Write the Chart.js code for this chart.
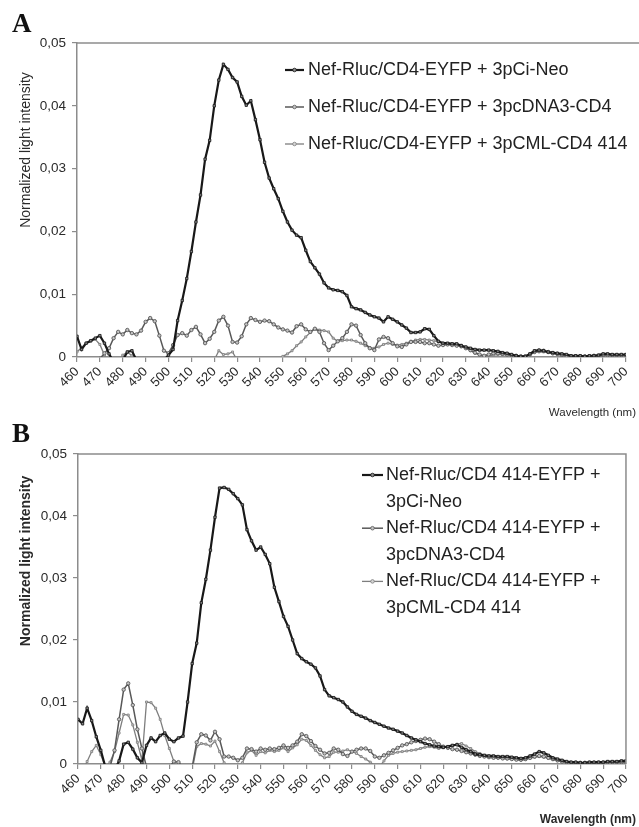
<!DOCTYPE html>
<html><head><meta charset="utf-8">
<script src="https://cdn.jsdelivr.net/npm/chart.js@4/dist/chart.umd.min.js"></script>
<style>
html,body{margin:0;padding:0;background:#fff;}
#wrap{position:relative;width:639px;height:827px;overflow:hidden;}
canvas{position:absolute;left:0;}
</style></head><body>
<div id="wrap">
<canvas id="cA" width="639" height="420" style="top:0"></canvas>
<canvas id="cB" width="639" height="407" style="top:420px"></canvas>
</div>
<script>
// ---- categories (wavelength, nm) ----
const wavelengths = [
 460,462,464,466,468,470,472,474,476,478,
 480,482,484,486,488,490,492,494,496,498,
 500,502,504,506,508,510,512,514,516,518,
 520,522,524,526,528,530,532,534,536,538,
 540,542,544,546,548,550,552,554,556,558,
 560,562,564,566,568,570,572,574,576,578,
 580,582,584,586,588,590,592,594,596,598,
 600,602,604,606,608,610,612,614,616,618,
 620,622,624,626,628,630,632,634,636,638,
 640,642,644,646,648,650,652,654,656,658,
 660,662,664,666,668,670,672,674,676,678,
 680,682,684,686,688,690,692,694,696,698,
 700];
const xTicks = [460,470,480,490,500,510,520,530,540,550,560,570,580,590,600,610,620,630,640,650,660,670,680,690,700];
const yTicks = [0,0.01,0.02,0.03,0.04,0.05];

// ---- panel A series ----
const labelsA = [
 'Nef-Rluc/CD4-EYFP + 3pCi-Neo',
 'Nef-Rluc/CD4-EYFP + 3pcDNA3-CD4',
 'Nef-Rluc/CD4-EYFP + 3pCML-CD4 414'];
const A_ciNeo = [
 0.0033,0.0012,0.0022,0.0026,0.0030,0.0034,0.0022,0.0005,-0.0008,-0.0010,
 -0.0005,0.0008,0.0010,-0.0005,-0.0010,-0.0010,-0.0010,-0.0010,-0.0010,-0.0005,
 0.0003,0.0012,0.0058,0.0090,0.0125,0.0168,0.0215,0.0258,0.0315,0.0345,
 0.0400,0.0441,0.0466,0.0458,0.0445,0.0438,0.0415,0.0401,0.0408,0.0378,
 0.0346,0.0310,0.0285,0.0268,0.0252,0.0232,0.0215,0.0202,0.0194,0.0190,
 0.0170,0.0152,0.0142,0.0132,0.0118,0.0110,0.0107,0.0106,0.0104,0.0098,
 0.0080,0.0077,0.0075,0.0071,0.0067,0.0064,0.0062,0.0056,0.0064,0.0060,
 0.0056,0.0051,0.0046,0.0039,0.0039,0.0040,0.0045,0.0044,0.0034,0.0025,
 0.0022,0.0022,0.0021,0.0021,0.0018,0.0016,0.0014,0.0012,0.0011,0.0011,
 0.0011,0.0010,0.0009,0.0007,0.0006,0.0004,0.0002,0.0001,0.0001,0.0005,
 0.0010,0.0011,0.0010,0.0008,0.0007,0.0006,0.0005,0.0004,0.0002,0.0002,
 0.0002,0.0001,0.0002,0.0002,0.0003,0.0005,0.0005,0.0004,0.0004,0.0004,
 0.0004];
const A_pcDNA3 = [
 -0.0010,-0.0010,-0.0010,-0.0010,-0.0010,-0.0003,0.0006,0.0014,0.0030,0.0040,
 0.0036,0.0043,0.0038,0.0036,0.0042,0.0056,0.0062,0.0057,0.0034,0.0010,
 0.0006,0.0019,0.0035,0.0038,0.0034,0.0043,0.0048,0.0036,0.0022,0.0029,
 0.0040,0.0058,0.0064,0.0050,0.0024,0.0023,0.0033,0.0052,0.0062,0.0059,
 0.0056,0.0058,0.0057,0.0052,0.0047,0.0044,0.0042,0.0039,0.0049,0.0052,
 0.0044,0.0040,0.0045,0.0040,0.0022,0.0011,0.0018,0.0025,0.0030,0.0040,
 0.0052,0.0050,0.0035,0.0022,0.0014,0.0011,0.0028,0.0032,0.0030,0.0022,
 0.0017,0.0016,0.0020,0.0024,0.0024,0.0024,0.0022,0.0022,0.0020,0.0018,
 0.0019,0.0020,0.0019,0.0018,0.0017,0.0014,0.0011,0.0007,0.0004,0.0002,
 0.0004,0.0006,0.0006,0.0005,0.0004,0.0003,0.0002,0.0001,0.0001,0.0004,
 0.0008,0.0010,0.0010,0.0008,0.0006,0.0005,0.0003,0.0002,0.0001,0.0001,
 0.0001,0.0001,0.0001,0.0002,0.0002,0.0003,0.0003,0.0003,0.0003,0.0003,
 0.0003];
const A_pCML = [
 0.0008,0.0015,0.0022,0.0025,0.0028,0.0020,0.0003,-0.0010,-0.0010,-0.0008,
 0.0003,0.0008,0.0002,-0.0008,-0.0010,-0.0010,-0.0010,-0.0010,-0.0010,-0.0010,
 -0.0010,-0.0010,-0.0010,-0.0010,-0.0010,-0.0010,-0.0010,-0.0010,-0.0010,-0.0010,
 -0.0005,0.0010,0.0004,0.0005,0.0008,-0.0005,-0.0010,-0.0010,-0.0010,-0.0010,
 -0.0010,-0.0010,-0.0010,-0.0010,-0.0005,0.0001,0.0005,0.0010,0.0018,0.0024,
 0.0032,0.0039,0.0045,0.0043,0.0042,0.0040,0.0030,0.0025,0.0026,0.0027,
 0.0027,0.0025,0.0022,0.0018,0.0015,0.0014,0.0016,0.0020,0.0022,0.0020,
 0.0019,0.0020,0.0022,0.0025,0.0027,0.0028,0.0028,0.0027,0.0026,0.0024,
 0.0022,0.0021,0.0021,0.0020,0.0019,0.0015,0.0010,0.0006,0.0003,0.0001,
 0.0002,0.0003,0.0004,0.0004,0.0003,0.0002,0.0001,0.0000,0.0001,0.0004,
 0.0007,0.0008,0.0008,0.0007,0.0005,0.0004,0.0003,0.0002,0.0001,0.0001,
 0.0001,0.0001,0.0001,0.0001,0.0001,0.0002,0.0002,0.0002,0.0002,0.0002,
 0.0002];

// ---- panel B series ----
const labelsB = [
 ['Nef-Rluc/CD4 414-EYFP +','3pCi-Neo'],
 ['Nef-Rluc/CD4 414-EYFP +','3pcDNA3-CD4'],
 ['Nef-Rluc/CD4 414-EYFP +','3pCML-CD4 414']];
const B_ciNeo = [
 0.0072,0.0065,0.0090,0.0070,0.0044,0.0022,-0.0005,-0.0010,-0.0010,0.0005,
 0.0032,0.0035,0.0024,0.0010,0.0002,0.0030,0.0042,0.0036,0.0046,0.0050,
 0.0040,0.0036,0.0042,0.0045,0.0100,0.0162,0.0195,0.0260,0.0298,0.0345,
 0.0398,0.0445,0.0446,0.0443,0.0436,0.0428,0.0418,0.0378,0.0360,0.0345,
 0.0350,0.0338,0.0323,0.0285,0.0262,0.0238,0.0222,0.0200,0.0178,0.0170,
 0.0165,0.0161,0.0155,0.0142,0.0120,0.0110,0.0107,0.0104,0.0100,0.0092,
 0.0085,0.0080,0.0077,0.0074,0.0070,0.0067,0.0064,0.0061,0.0058,0.0056,
 0.0053,0.0050,0.0046,0.0042,0.0039,0.0036,0.0033,0.0031,0.0029,0.0028,
 0.0027,0.0028,0.0030,0.0031,0.0027,0.0023,0.0020,0.0016,0.0015,0.0014,
 0.0013,0.0013,0.0012,0.0012,0.0012,0.0011,0.0010,0.0009,0.0010,0.0013,
 0.0016,0.0020,0.0018,0.0014,0.0010,0.0008,0.0006,0.0004,0.0003,0.0003,
 0.0002,0.0002,0.0003,0.0003,0.0003,0.0003,0.0004,0.0004,0.0004,0.0005,
 0.0005];
const B_pcDNA3 = [
 -0.0010,-0.0010,-0.0010,-0.0010,-0.0010,-0.0010,-0.0010,-0.0005,0.0022,0.0072,
 0.0120,0.0130,0.0095,0.0056,0.0025,-0.0005,-0.0010,-0.0010,-0.0010,-0.0010,
 -0.0005,0.0004,0.0003,-0.0005,-0.0010,-0.0005,0.0035,0.0048,0.0046,0.0038,
 0.0052,0.0040,0.0012,0.0012,0.0010,0.0006,0.0010,0.0025,0.0024,0.0020,
 0.0025,0.0023,0.0025,0.0024,0.0026,0.0030,0.0026,0.0030,0.0036,0.0048,
 0.0045,0.0037,0.0029,0.0023,0.0017,0.0018,0.0025,0.0023,0.0016,0.0013,
 0.0020,0.0023,0.0025,0.0025,0.0021,0.0012,0.0010,0.0014,0.0018,0.0022,
 0.0026,0.0030,0.0032,0.0035,0.0037,0.0039,0.0041,0.0040,0.0036,0.0032,
 0.0028,0.0026,0.0024,0.0023,0.0021,0.0019,0.0017,0.0015,0.0013,0.0012,
 0.0011,0.0010,0.0010,0.0009,0.0009,0.0008,0.0007,0.0007,0.0008,0.0010,
 0.0012,0.0013,0.0012,0.0010,0.0008,0.0006,0.0004,0.0003,0.0002,0.0002,
 0.0002,0.0002,0.0002,0.0002,0.0002,0.0002,0.0003,0.0003,0.0003,0.0003,
 0.0003];
const B_pCML = [
 -0.0010,-0.0010,0.0004,0.0020,0.0030,0.0015,-0.0005,0.0003,0.0020,0.0050,
 0.0080,0.0079,0.0063,0.0035,0.0006,0.0100,0.0099,0.0090,0.0072,0.0046,
 0.0025,0.0004,-0.0005,-0.0010,-0.0010,-0.0010,0.0028,0.0033,0.0032,0.0029,
 0.0037,0.0020,0.0002,-0.0005,-0.0005,-0.0005,0.0002,0.0018,0.0022,0.0014,
 0.0020,0.0018,0.0022,0.0020,0.0022,0.0026,0.0020,0.0026,0.0031,0.0040,
 0.0038,0.0030,0.0022,0.0015,0.0010,0.0012,0.0019,0.0019,0.0021,0.0023,
 0.0020,0.0017,0.0012,0.0008,0.0003,-0.0003,-0.0005,0.0005,0.0014,0.0017,
 0.0019,0.0020,0.0021,0.0022,0.0023,0.0025,0.0027,0.0028,0.0027,0.0025,
 0.0026,0.0028,0.0030,0.0032,0.0033,0.0029,0.0025,0.0020,0.0017,0.0014,
 0.0012,0.0011,0.0010,0.0009,0.0008,0.0008,0.0007,0.0006,0.0007,0.0009,
 0.0011,0.0012,0.0011,0.0009,0.0007,0.0005,0.0004,0.0003,0.0002,0.0002,
 0.0002,0.0002,0.0002,0.0002,0.0003,0.0003,0.0003,0.0003,0.0003,0.0003,
 0.0003];

// ---- styles ----
const FONT = "'Liberation Sans', Arial, Helvetica, sans-serif";
Chart.defaults.font.family = FONT;
Chart.defaults.color = '#2a2a2a';
const AXIS = '#8c8c8c';
const styles = [
 {borderColor:'#181818', borderWidth:2.2, pointStyle:'rect', pointRadius:1.7, pointBackgroundColor:'#8a8a8a', pointBorderColor:'#181818', pointBorderWidth:0.8},
 {borderColor:'#585858', borderWidth:1.5, pointStyle:'circle', pointRadius:1.7, pointBackgroundColor:'#c4c4c4', pointBorderColor:'#585858', pointBorderWidth:0.9},
 {borderColor:'#7e7e7e', borderWidth:1.3, pointStyle:'rect', pointRadius:1.4, pointBackgroundColor:'#d4d4d4', pointBorderColor:'#7e7e7e', pointBorderWidth:0.8}
];

function pts(vals){ return wavelengths.map((w,i)=>({x:w, y:vals[i]})); }

const deco = {
 id:'deco',
 afterDraw(chart, args, o){
  const ctx = chart.ctx, a = chart.chartArea;
  ctx.save();
  // frame
  ctx.strokeStyle = AXIS; ctx.lineWidth = 1.5;
  ctx.beginPath();
  ctx.moveTo(a.left, a.top);
  if (o.box){ ctx.lineTo(a.right, a.top); ctx.lineTo(a.right, a.bottom); }
  else { ctx.lineTo(chart.width, a.top); }
  ctx.stroke();
  // panel letter
  ctx.fillStyle = '#111';
  ctx.font = 'bold 27px "Liberation Serif", "Times New Roman", serif';
  ctx.textAlign = 'left'; ctx.textBaseline = 'alphabetic';
  ctx.fillText(o.letter, 12, o.letterY);
  // y title
  ctx.save();
  ctx.translate(o.yTitleX, o.yTitleY);
  ctx.rotate(-Math.PI/2);
  ctx.font = (o.bold ? 'bold ' : '') + '14px ' + FONT;
  ctx.fillStyle = '#2a2a2a';
  ctx.textAlign = 'center'; ctx.textBaseline = 'middle';
  ctx.fillText('Normalized light intensity', 0, 0);
  ctx.restore();
  // x title
  ctx.font = (o.bold ? 'bold 12px ' : '11.5px ') + FONT;
  ctx.fillStyle = '#2a2a2a';
  ctx.textAlign = 'right'; ctx.textBaseline = 'middle';
  ctx.fillText('Wavelength (nm)', 636, o.xTitleY);
  // legend
  ctx.font = '18px ' + FONT;
  ctx.textAlign = 'left'; ctx.textBaseline = 'middle';
  let y = o.legY;
  chart.data.datasets.forEach((ds, i) => {
   const lines = o.legend[i];
   ctx.strokeStyle = ds.borderColor; ctx.lineWidth = ds.borderWidth;
   ctx.beginPath(); ctx.moveTo(o.legX0, y); ctx.lineTo(o.legX1, y); ctx.stroke();
   const mx = (o.legX0 + o.legX1)/2;
   ctx.fillStyle = ds.pointBackgroundColor; ctx.strokeStyle = ds.pointBorderColor; ctx.lineWidth = 0.8;
   ctx.beginPath(); ctx.arc(mx, y, 1.8, 0, Math.PI*2); ctx.fill(); ctx.stroke();
   ctx.fillStyle = '#222';
   lines.forEach((t, k) => { ctx.fillText(t, o.legTextX, y + k*o.lineGap); });
   y += lines.length*o.lineGap + o.entryGap;
  });
  ctx.restore();
 }
};

function makeChart(id, series, labels, cfg){
 const datasets = series.map((vals, i) => Object.assign({
   label: [].concat(labels[i]).join(' '),
   data: pts(vals), tension: 0, fill: false
 }, styles[i]));
 return new Chart(document.getElementById(id), {
  type: 'line',
  data: { datasets },
  plugins: [deco],
  options: {
   responsive: false, animation: false, events: [],
   layout: { padding: cfg.padding },
   plugins: { legend: {display:false}, tooltip: {enabled:false}, title:{display:false}, deco: cfg.deco },
   scales: {
    x: {
     type: 'linear', min: xTicks[0], max: xTicks[xTicks.length-1],
     afterBuildTicks: s => { s.ticks = xTicks.map(v => ({value:v})); },
     afterFit: s => { s.height = cfg.xHeight; },
     ticks: { autoSkip:false, minRotation:45, maxRotation:45, padding:2, font:{size:13}, color:'#2a2a2a', callback: v => String(v) },
     grid: { display:true, drawOnChartArea:false, drawTicks:true, tickLength:5, color:AXIS, lineWidth:1.2 },
     border: { display:true, color:AXIS, width:1.5 }
    },
    y: {
     type: 'linear', min: 0, max: 0.05,
     afterBuildTicks: s => { s.ticks = yTicks.map(v => ({value:v})); },
     afterFit: s => { s.width = cfg.yWidth; },
     ticks: { padding:6, font:{size:13.5}, color:'#2a2a2a', callback: v => v === 0 ? '0' : v.toFixed(2).replace('.', ',') },
     grid: { display:true, drawOnChartArea:false, drawTicks:true, tickLength:5, color:AXIS, lineWidth:1.2 },
     border: { display:true, color:AXIS, width:1.5 }
    }
   }
  }
 });
}

makeChart('cA', [A_ciNeo, A_pcDNA3, A_pCML], labelsA, {
 padding: {left:0, top:43, right:2, bottom:0},
 xHeight: 63, yWidth: 77,
 deco: { box:false, letter:'A', letterY:32, bold:false, yTitleX:26, yTitleY:150, xTitleY:413,
   legend: labelsA.map(s => [s]), legX0:285, legX1:304, legTextX:308, legY:70, lineGap:37, entryGap:0 }
});
makeChart('cB', [B_ciNeo, B_pcDNA3, B_pCML], labelsB, {
 padding: {left:0, top:34, right:5, bottom:0},
 xHeight: 63, yWidth: 78,
 deco: { box:true, letter:'B', letterY:22, bold:true, yTitleX:26, yTitleY:141, xTitleY:400,
   legend: labelsB, legX0:362, legX1:383, legTextX:386, legY:55, lineGap:26.6, entryGap:0 }
});
</script>
</body></html>
